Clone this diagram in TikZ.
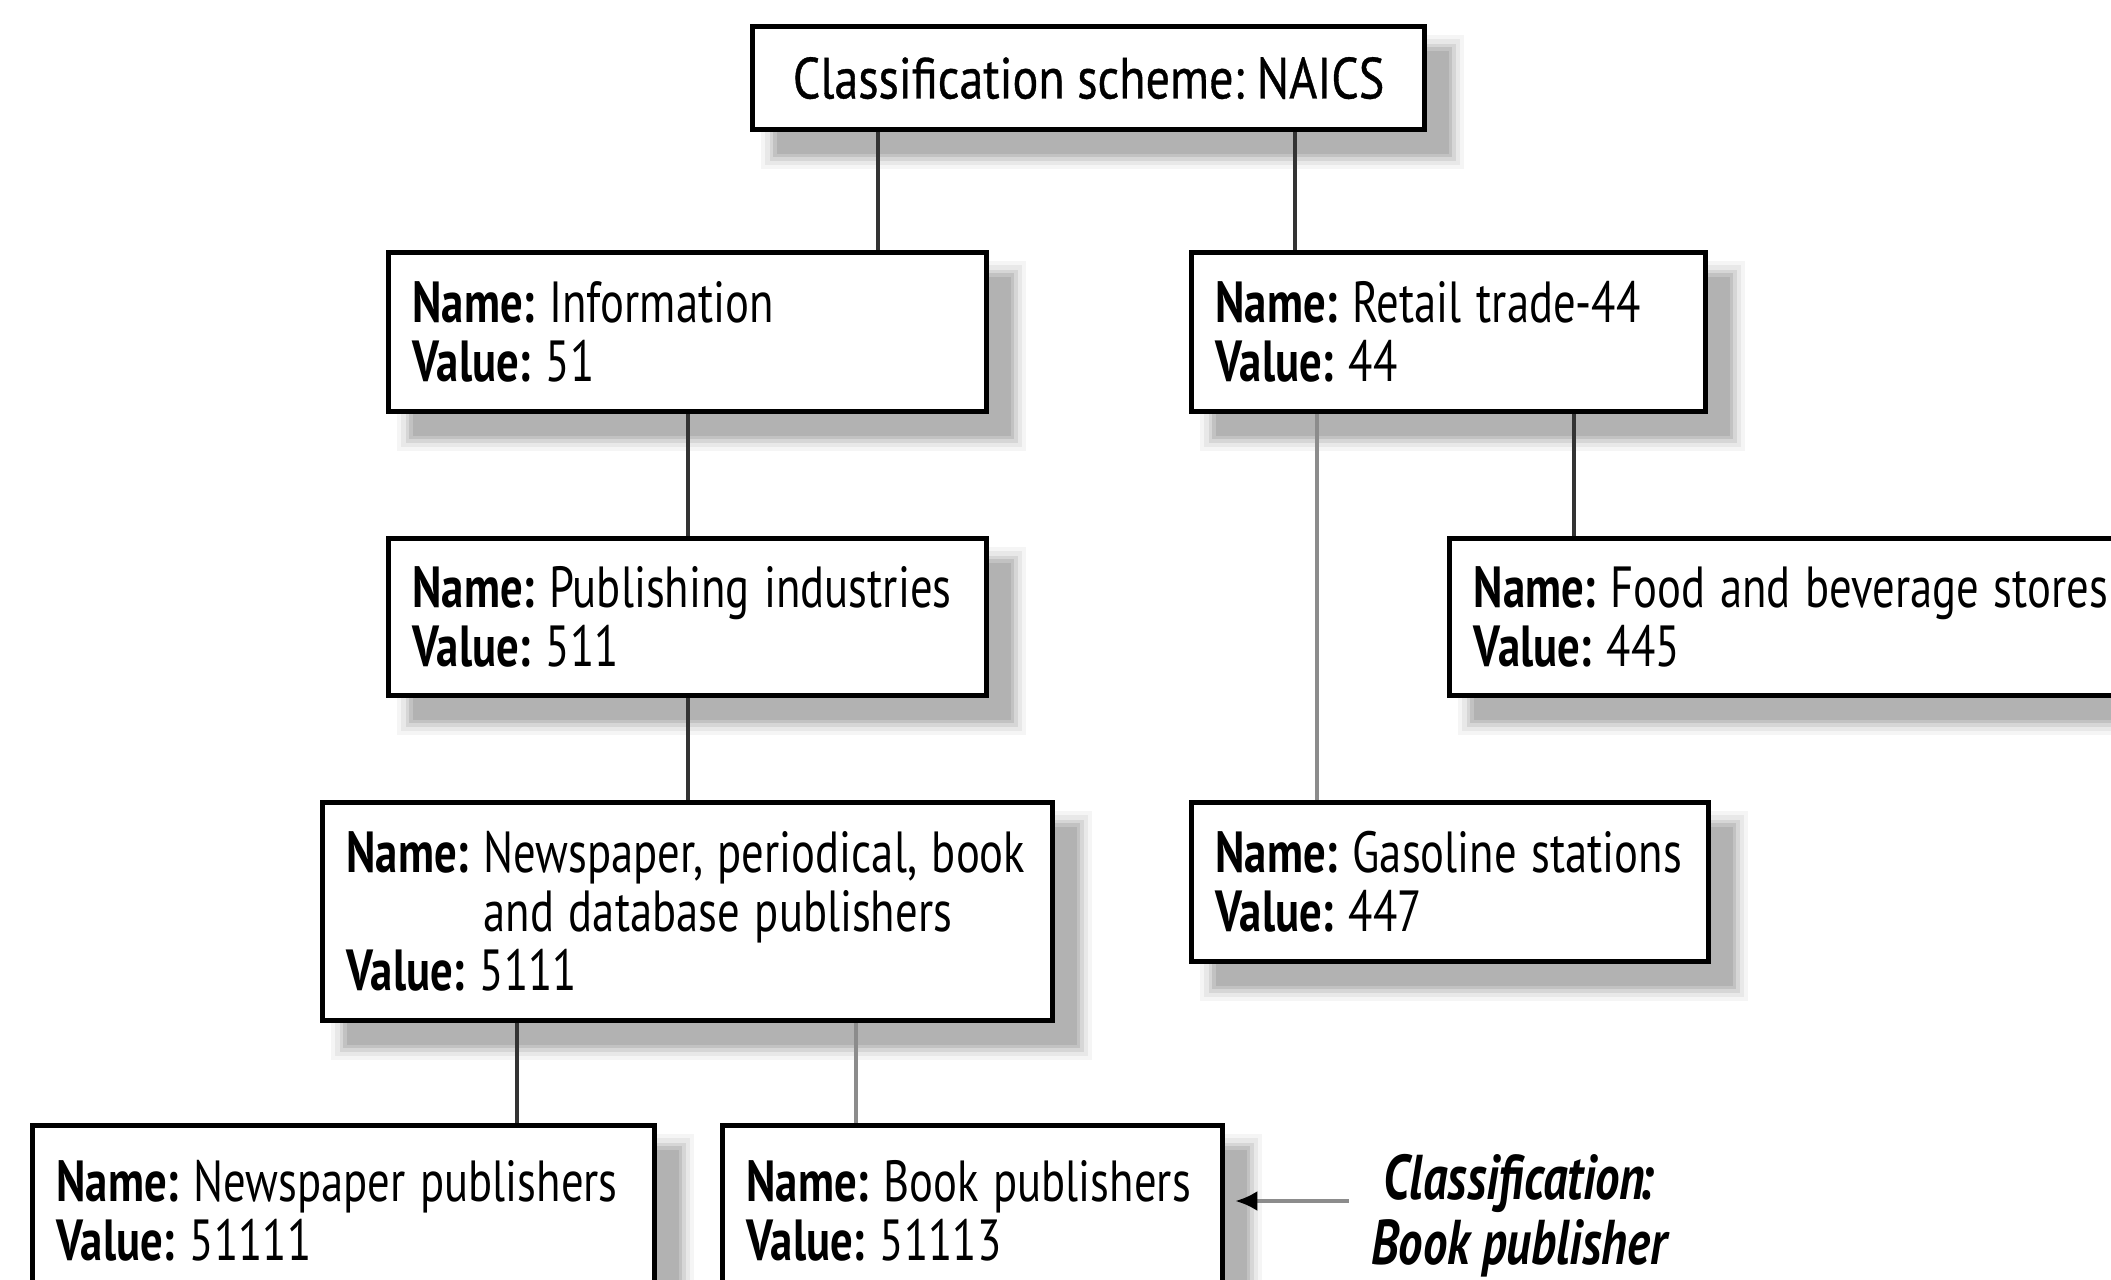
\documentclass[tikz,border=0pt]{standalone}
\usepackage{fontspec}
\setmainfont{PT Sans}[FakeStretch=0.77]
\newfontfamily\titlefont{PT Sans}[FakeStretch=0.83, FakeBold=0.6]
\usetikzlibrary{arrows.meta}
\frenchspacing

\tikzset{
  % white box with a thick black frame and a soft grey drop shadow
  box/.style={draw=black, line width=1.5pt, fill=white, anchor=north west,
    inner xsep=0.24cm, inner ysep=0pt, align=left,
    execute at begin node={\spaceskip=4.2pt plus 1pt minus 0.5pt\relax},
    preaction={fill=black!4, draw=black!4, line width=9pt,
      transform canvas={shift={(0.24,-0.24)}}},
    preaction={fill=black!9, draw=black!9, line width=6.5pt,
      transform canvas={shift={(0.24,-0.24)}}},
    preaction={fill=black!16, draw=black!16, line width=4pt,
      transform canvas={shift={(0.24,-0.24)}}},
    preaction={fill=black!24, draw=black!24, line width=2pt,
      transform canvas={shift={(0.24,-0.24)}}},
    preaction={fill=black!30, draw=none,
      transform canvas={shift={(0.24,-0.24)}}}},
  link/.style={draw=black!80, line width=1.1pt},
  softlink/.style={draw=black!45, line width=1.1pt},
  every node/.style={font=\fontsize{16.5}{16.8}\selectfont},
}
% one unbroken text line of a box: bold key, then its value
\newcommand{\nm}[1]{\mbox{\textbf{Name:} #1}}
\newcommand{\vl}[1]{\mbox{\textbf{Value:} #1}}

\begin{document}
\begin{tikzpicture}
\useasboundingbox (0,0) rectangle (21.11,-12.79);

% tree of classification nodes
\node[box, align=center, minimum width=6.72cm, minimum height=1.03cm, inner xsep=0pt,
  font=\fontsize{16.5}{16.8}\titlefont,
  execute at begin node={\spaceskip=3.6pt\relax}]
  (top) at (7.50,-0.24) {Classification scheme: NAICS};

\node[box, minimum width=5.98cm, minimum height=1.59cm, text width=5.50cm]
  (info) at (3.86,-2.50) {\nm{Information}\\\vl{51}};
\node[box, minimum width=5.14cm, minimum height=1.59cm, text width=4.66cm]
  (retail) at (11.89,-2.50) {\nm{Retail trade-44}\\\vl{44}};

\node[box, minimum width=5.98cm, minimum height=1.57cm, text width=5.50cm]
  (pub) at (3.86,-5.36) {\nm{Publishing industries}\\\vl{511}};
\node[box, minimum width=6.78cm, minimum height=1.57cm, text width=6.30cm]
  (food) at (14.47,-5.36) {\nm{Food and beverage stores}\\\vl{445}};

\node[box, minimum width=7.30cm, minimum height=2.18cm, text width=6.82cm]
  (news) at (3.20,-8.00) {\nm{Newspaper, periodical, book}\\\mbox{\phantom{\textbf{Name:} }and database publishers}\\\vl{5111}};
\node[box, minimum width=5.17cm, minimum height=1.59cm, text width=4.69cm]
  (gas) at (11.89,-8.00) {\nm{Gasoline stations}\\\vl{447}};

\node[box, minimum width=6.22cm, minimum height=1.70cm, text width=5.74cm]
  (np) at (0.30,-11.23) {\nm{Newspaper publishers}\\\vl{51111}};
\node[box, minimum width=5.00cm, minimum height=1.70cm, text width=4.52cm]
  (bp) at (7.20,-11.23) {\nm{Book publishers}\\\vl{51113}};

\node[font=\fontsize{18}{18.5}\selectfont\bfseries\itshape, align=center]
  (lab) at (15.19,-12.16) {Classification\kern-0.1em:\\Book publisher};

% x positions of the vertical links
\coordinate (xa) at (8.78,0);
\coordinate (xb) at (12.95,0);
\coordinate (xd) at (5.17,0);
\coordinate (xe) at (8.56,0);
\coordinate (xf) at (13.17,0);
\coordinate (xg) at (15.74,0);
\coordinate (ay) at (0,-12.01);

\draw[link] (top.south -| xa) -- (info.north -| xa);
\draw[link] (top.south -| xb) -- (retail.north -| xb);
\draw[link] (info.south) -- (pub.north);
\draw[link] (pub.south) -- (news.north);
\draw[link] (news.south -| xd) -- (np.north -| xd);
\draw[softlink] (news.south -| xe) -- (bp.north -| xe);
\draw[softlink] (retail.south -| xf) -- (gas.north -| xf);
\draw[link] (retail.south -| xg) -- (food.north -| xg);

% pointer from the label to the classified object
\draw[softlink, -{Latex[black, length=0.22cm, width=0.2cm]}]
  ([xshift=-0.1cm]lab.west |- ay) -- ([xshift=0.1cm]bp.east |- ay);
\end{tikzpicture}
\end{document}
